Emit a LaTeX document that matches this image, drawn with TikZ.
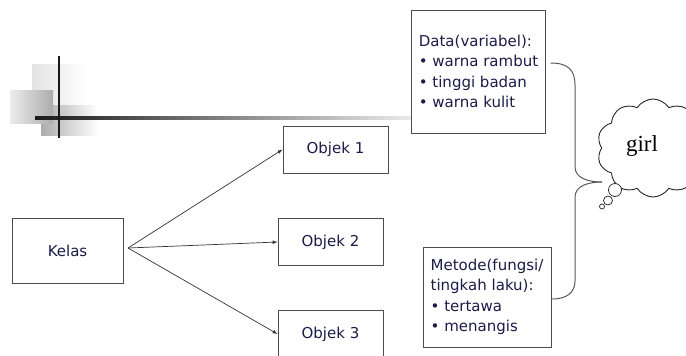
\documentclass[tikz,border=0pt]{standalone}
\usepackage{fontspec}
\setmainfont{DejaVu Sans}
\newfontfamily\girlfont{Liberation Serif}
\usetikzlibrary{shapes.symbols}
\definecolor{ink}{RGB}{28,28,72}
\def\objlist{{(335.5,149.5)/1}, {(330.5,242)/2}, {(330.5,334)/3}}
\def\bubblelist{{(615,190)/13pt/b1}, {(608,200.5)/9pt/b2}, {(602,206.5)/5pt/b3}}
\tikzstyle{box}=[draw=black!70, line width=0.9pt, fill=white, text=ink, font=\fontsize{15}{20.5}\selectfont]
\tikzstyle{objbox}=[box, minimum width=105pt, minimum height=47pt]
\tikzstyle{listbox}=[box, align=left, inner xsep=7pt]
\tikzstyle{link}=[draw, black!80, line width=0.7pt, -latex]
\tikzstyle{brace}=[draw, black!65, line width=1pt]
\tikzstyle{bubble}=[circle, draw=black!80, line width=0.8pt, fill=white, inner sep=0pt]

\begin{document}
\begin{tikzpicture}[x=1pt,y=-1pt]
  \useasboundingbox (0,0) rectangle (686,356);
  \clip (0,0) rectangle (686,356);

  % corner ornament
  \shade[left color=gray!22, right color=white] (32,64) rectangle (87,107);
  \shade[left color=gray!65, right color=white] (41,105) rectangle (98,135);
  \shade[left color=gray!15, right color=gray!65] (10,90) rectangle (53,123);
  \shade[left color=black!90, right color=black!8] (35,116.8) rectangle (412,119.4);
  \draw[line width=2.6pt, black!90] (59,56) -- (59,138);

  % class and objects
  \node[box, minimum width=111pt, minimum height=65pt] (kelas) at (67.5,250.5) {Kelas};
  \foreach \pos/\n in \objlist {
    \node[objbox] (obj\n) at \pos {Objek \n};
  }
  \coordinate (fork) at (128,248);
  \foreach \n in {1,2,3} {
    \path[link] (fork) -- (obj\n.west);
  }

  % data and methods
  \node[listbox, minimum width=133pt, minimum height=123pt] (data) at (478.5,71.5)
    {Data(variabel):\\• warna rambut\\• tinggi badan\\• warna kulit};
  \node[listbox, minimum width=128pt, minimum height=100pt] (metode) at (487,297)
    {Metode(fungsi/\\tingkah laku):\\• tertawa\\• menangis};

  % thought cloud
  \node[cloud, draw=black!85, fill=white, line width=0.9pt, cloud puffs=10, cloud puff arc=115,
    aspect=1.15, minimum width=112pt, minimum height=98pt,
    font=\girlfont\fontsize{23}{23}\selectfont] (girl) at (653,148) {\hspace*{-22pt}\raisebox{8pt}{girl}};
  \foreach \pos/\d/\name in \bubblelist {
    \node[bubble, minimum size=\d] (\name) at \pos {};
  }
  \coordinate (tip) at (602,182);

  \path[brace] ([xshift=5pt,yshift=8.5pt]data.east) .. controls (568,63) and (575,70) .. (575,85)
    -- (575,167) .. controls (575,178) and (588,182) .. (tip);
  \path[brace] (tip) .. controls (588,182) and (575,186) .. (575,197)
    -- (575,281) .. controls (575,293) and (566,299) .. ([xshift=1pt,yshift=-2pt]metode.east);
\end{tikzpicture}
\end{document}
